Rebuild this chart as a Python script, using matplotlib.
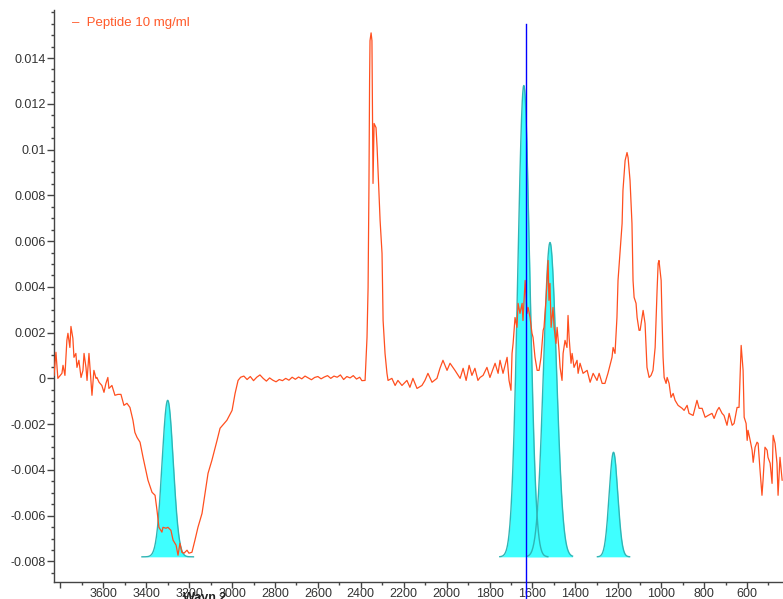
import numpy as np
import matplotlib
matplotlib.use("Agg")
import matplotlib.pyplot as plt
from matplotlib.ticker import MultipleLocator, FixedLocator

plt.rcParams['font.family'] = ['Liberation Sans', 'DejaVu Sans']

# Spectrum: wavenumber (cm-1) and absorbance
wavenumber = [
    3830, 3821, 3816, 3812, 3793, 3788, 3779, 3770, 3765, 3756, 3751, 3742, 3737, 3728, 3723, 3714,
    3704, 3695, 3690, 3681, 3676, 3667, 3658, 3653, 3644, 3634, 3630, 3620, 3607, 3597, 3588, 3579,
    3574, 3560, 3546, 3532, 3518, 3504, 3490, 3476, 3462, 3453, 3443, 3429, 3415, 3392, 3373, 3359,
    3350, 3341, 3327, 3322, 3308, 3299, 3285, 3275, 3261, 3252, 3243, 3234, 3224, 3210, 3201, 3187,
    3173, 3159, 3140, 3126, 3112, 3094, 3070, 3056, 3024, 3000, 2986, 2972,
    2960, 2945, 2930, 2915, 2900, 2885, 2870, 2855, 2840, 2825, 2810, 2795, 2780, 2765, 2750, 2735,
    2720, 2705, 2690, 2675, 2660, 2645, 2630, 2615, 2600, 2585, 2570, 2555, 2540, 2525, 2510, 2495,
    2480, 2465, 2450, 2435, 2420, 2405, 2395,
    2380, 2371, 2366, 2362, 2359, 2357, 2352, 2348, 2343, 2338, 2329, 2324, 2310, 2301, 2296, 2287,
    2278, 2273, 2255, 2240, 2227, 2208, 2185, 2171, 2157, 2138, 2115, 2101, 2087, 2068, 2045, 2031,
    2017, 1998, 1984, 1961, 1937, 1923, 1909, 1895, 1882, 1868, 1854, 1844, 1830, 1812, 1798, 1774,
    1760, 1751, 1737, 1718, 1709, 1700, 1695, 1690, 1681, 1672, 1667, 1658, 1648, 1644, 1634, 1625,
    1620, 1611, 1602, 1597, 1588, 1578, 1569, 1560, 1550, 1546, 1536, 1527, 1523, 1518, 1513, 1504,
    1499, 1490, 1485, 1476, 1471, 1462, 1457, 1448, 1439, 1434, 1429, 1420, 1415, 1406, 1392, 1387,
    1378, 1364, 1345, 1331, 1317, 1299, 1289, 1275, 1262, 1248, 1229, 1224, 1215, 1206, 1201, 1192,
    1182, 1178, 1168, 1159, 1154, 1145, 1136, 1131, 1126, 1117, 1112, 1103, 1098, 1089, 1084, 1075,
    1070, 1066, 1056, 1047, 1038, 1028, 1019, 1014, 1010, 1000, 996, 991, 986, 977, 972, 963,
    954, 944, 935, 921, 902, 893, 879, 870, 851, 833, 823, 809, 795, 781, 763, 753,
    739, 730, 716, 707, 693, 683, 669, 660, 646, 637, 627, 618, 613, 604, 599, 595,
    585, 576, 571, 562, 553, 548, 539, 530, 525, 516, 506, 502, 492, 483, 478, 469,
    460, 455, 446, 436,
]
absorbance = [
    0.00013, 0.00114, 0.00048, 0.00000, 0.00022, 0.00057, 0.00013, 0.00166, 0.00197, 0.00135, 0.00227, 0.00175, 0.00092, 0.00109, 0.00048, 0.00079,
    0.00004, 0.00035, 0.00109, 0.00048, -0.00009, 0.00109, -0.00009, -0.00074, 0.00035, 0.00000, 0.00004, -0.00017, -0.00031, -0.00061, -0.00022, 0.00004,
    -0.00044, -0.00031, -0.00074, -0.00070, -0.00070, -0.00118, -0.00109, -0.00127, -0.00183, -0.00236, -0.00258, -0.00279, -0.00345, -0.00445, -0.00498, -0.00511,
    -0.00576, -0.00651, -0.00672, -0.00651, -0.00655, -0.00651, -0.00664, -0.00707, -0.00729, -0.00773, -0.00721, -0.00760, -0.00764, -0.00751, -0.00764, -0.00760,
    -0.00707, -0.00651, -0.00590, -0.00502, -0.00415, -0.00358, -0.00271, -0.00218, -0.00183, -0.00140, -0.00066, -0.00009,
    0.00005, 0.00010, -0.00005, 0.00008, -0.00010, 0.00005, 0.00015, 0.00000, -0.00012, 0.00002, -0.00008, -0.00015, -0.00005, -0.00010, 0.00000, -0.00008,
    0.00005, -0.00004, 0.00006, -0.00002, 0.00010, 0.00002, -0.00006, 0.00004, 0.00008, -0.00002, 0.00006, 0.00012, 0.00000, 0.00010, 0.00005, 0.00015,
    -0.00005, 0.00008, 0.00002, 0.00012, -0.00003, 0.00005, -0.00010,
    -0.00009, 0.00179, 0.00397, 0.00834, 0.01300, 0.01476, 0.01510, 0.01476, 0.00852, 0.01114, 0.01096, 0.01009, 0.00690, 0.00546, 0.00253, 0.00109,
    0.00022, -0.00009, 0.00000, -0.00031, -0.00009, -0.00031, -0.00009, -0.00039, 0.00000, -0.00044, -0.00031, -0.00009, 0.00022, -0.00017, 0.00000, 0.00044,
    0.00079, 0.00035, 0.00066, 0.00035, 0.00000, 0.00044, -0.00009, 0.00057, 0.00013, 0.00044, -0.00009, 0.00004, 0.00013, 0.00048, 0.00004, 0.00066,
    0.00022, 0.00079, 0.00022, 0.00092, -0.00009, -0.00052, 0.00109, 0.00153, 0.00266, 0.00223, 0.00328, 0.00284, 0.00328, 0.00253, 0.00428, 0.00284,
    0.00310, 0.00266, 0.00197, 0.00179, 0.00092, 0.00035, 0.00035, 0.00092, 0.00210, 0.00223, 0.00354, 0.00515, 0.00341, 0.00415, 0.00223, 0.00310,
    0.00223, 0.00153, 0.00223, 0.00122, 0.00048, -0.00009, 0.00109, 0.00166, 0.00135, 0.00275, 0.00179, 0.00066, 0.00109, 0.00048, 0.00079, 0.00022,
    0.00066, 0.00022, 0.00035, -0.00017, 0.00022, -0.00009, 0.00022, -0.00022, -0.00022, 0.00022, 0.00092, 0.00135, 0.00109, 0.00266, 0.00428, 0.00546,
    0.00677, 0.00821, 0.00952, 0.00987, 0.00965, 0.00865, 0.00677, 0.00428, 0.00354, 0.00328, 0.00266, 0.00210, 0.00210, 0.00266, 0.00297, 0.00240,
    0.00135, 0.00048, 0.00004, 0.00013, 0.00035, 0.00135, 0.00384, 0.00502, 0.00515, 0.00428, 0.00266, 0.00092, 0.00004, -0.00022, 0.00004, -0.00022,
    -0.00083, -0.00066, -0.00096, -0.00118, -0.00131, -0.00140, -0.00118, -0.00153, -0.00162, -0.00096, -0.00131, -0.00131, -0.00170, -0.00162, -0.00153, -0.00175,
    -0.00140, -0.00127, -0.00153, -0.00162, -0.00205, -0.00153, -0.00205, -0.00197, -0.00127, -0.00127, 0.00144, 0.00035, -0.00170, -0.00197, -0.00271, -0.00227,
    -0.00271, -0.00314, -0.00367, -0.00301, -0.00279, -0.00284, -0.00402, -0.00511, -0.00445, -0.00301, -0.00314, -0.00345, -0.00371, -0.00459, -0.00249, -0.00284,
    -0.00371, -0.00511, -0.00345, -0.00445,
]

# Fitted Gaussian components: center, peak absorbance, width (sigma), half-range drawn
gauss_center = [3300, 1640, 1518, 1222]
gauss_peak = [-0.00096, 0.0128, 0.00594, -0.00323]
gauss_sigma = [26, 28, 30, 20]
gauss_halfrange = [120, 112, 105, 75]
gauss_base = -0.0078

marker_wavenumber = 1630
legend_label = "Peptide 10 mg/ml"

fig = plt.figure(figsize=(7.83, 5.99), dpi=100)
ax = fig.add_axes([54 / 783, 17 / 599, 1 - 54 / 783, (582 - 10) / 599])
ax.set_xlim(3830, 432)
ax.set_ylim(-0.0089, 0.0161)

for c, p, s, hr in zip(gauss_center, gauss_peak, gauss_sigma, gauss_halfrange):
    x = np.linspace(c - hr, c + hr, 200)
    y = gauss_base + (p - gauss_base) * np.exp(-0.5 * ((x - c) / s) ** 2)
    ax.fill_between(x, gauss_base, y, color='#3FFFFF', lw=0, zorder=2)
    ax.plot(x, y, color='#2FB5B5', lw=1.0, zorder=2.5)

ax.plot(wavenumber, absorbance, color='#FF4F1F', lw=0.9, zorder=3)
ax.plot([marker_wavenumber, marker_wavenumber], [0.0155, -0.0097], color='#0000FF',
        lw=1.0, zorder=4, clip_on=False)

ax.xaxis.set_major_locator(FixedLocator(list(range(3800, 400, -200))))
ax.xaxis.set_minor_locator(MultipleLocator(100))
ax.set_xticklabels(['' if v == 3800 else str(v) for v in range(3800, 400, -200)])
ax.yaxis.set_major_locator(MultipleLocator(0.002))
ax.yaxis.set_minor_locator(MultipleLocator(0.0005))

def yfmt(v):
    if abs(v) < 1e-9:
        return '0'
    return ('%.3f' % v).rstrip('0')

yt = np.arange(-0.008, 0.0141, 0.002)
ax.set_yticks(yt)
ax.set_yticklabels([yfmt(v) for v in yt])

ax.tick_params(axis='y', which='major', direction='out', length=5, width=1,
               color='#444444', labelsize=9, labelcolor='#333333', pad=1)
ax.tick_params(axis='x', which='major', direction='out', length=4, width=1,
               color='#444444', labelsize=9, labelcolor='#333333', pad=0)
ax.tick_params(axis='both', which='minor', direction='out', length=2.5, width=1,
               color='#444444')
for side in ['top', 'right']:
    ax.spines[side].set_visible(False)
for side in ['left', 'bottom']:
    ax.spines[side].set_color('#444444')
    ax.spines[side].set_linewidth(1.0)

fig.text(72 / 783, 1 - 23 / 599, '\u2013  ' + legend_label, color='#FF5A2A', fontsize=9.5,
         va='center', ha='left')
fig.text(205 / 783, 0.002, 'Wavn 2', fontsize=9, fontweight='bold', color='#222222',
         ha='center', va='center')

fig.savefig('out.png', dpi=100, facecolor='white')
